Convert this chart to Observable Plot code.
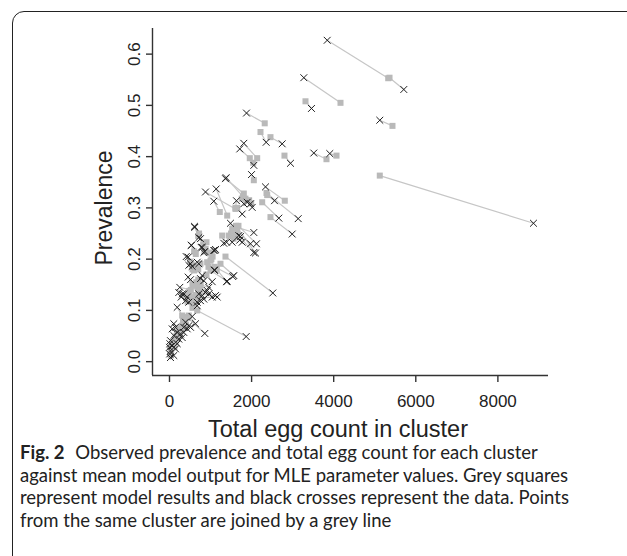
<!DOCTYPE html>
<html>
<head>
<meta charset="utf-8">
<script src="https://cdn.jsdelivr.net/npm/d3@7"></script>
<script src="https://cdn.jsdelivr.net/npm/@observablehq/plot@0.6"></script>
<style>
  html, body { margin:0; padding:0; background:#fff; }
  body { width:627px; height:556px; overflow:hidden; position:relative; }
  #frame { position:absolute; left:12px; top:11px; width:680px; height:640px;
           border:1.6px solid #222; border-radius:12px; box-sizing:border-box; }
  #chart { position:absolute; left:0; top:0; }
  #caption { position:absolute; left:20px; top:441px; width:600px;
             font-family: Lato, "Open Sans", sans-serif; font-size:18.5px; line-height:22.7px; color:#222; }
  #caption b { font-weight:700; margin-right:6px; }
</style>
</head>
<body>
<div id="frame"></div>
<div id="chart"></div>
<div id="caption"><b>Fig. 2</b> Observed prevalence and total egg count for each cluster<br>against mean model output for MLE parameter values. Grey squares<br>represent model results and black crosses represent the data. Points<br>from the same cluster are joined by a grey line</div>
<script>
// Observed data (black crosses)
const dataEgg = [3842,5708,3272,3459,5123,8867,3515,3905,2948,1876,2745,2355,1810,1712,2054,1998,1364,1380,2339,3135,2663,2989,2558,
  877,1138,1079,1632,1893,1973,2015,1810,1771,1486,2054,1730,1323,1389,1527,1771,1973,2054,2095,
  609,755,529,772,836,1079,1121,407,470,553,510,675,1096,2517,1567,1389,1040,
  227,309,431,470,390,714,797,877,957,1121,1040,836,755,675,188,675,1868,860,633,
  797,755,836,455,512,918,1162,957,251,348,285,1542,1406,616,714,536,797,455,714,1096,860,1104,1688,2119,1710,
  390,470,512,348,553,105,146,66,188,268,105,24,10,66,0,24,5,105,24,146,188,227,309,348,431];
const dataPrev = [.627,.531,.554,.494,.471,.270,.407,.406,.387,.485,.425,.428,.426,.415,.383,.365,.357,.359,.341,.279,.280,.249,.314,
  .331,.337,.313,.314,.311,.308,.301,.308,.288,.270,.252,.244,.231,.233,.233,.233,.230,.213,.212,
  .264,.240,.227,.223,.213,.217,.219,.205,.188,.186,.191,.194,.178,.134,.168,.156,.156,
  .135,.132,.126,.116,.119,.132,.129,.135,.132,.129,.126,.122,.119,.116,.106,.109,.049,.055,.074,
  .168,.162,.158,.165,.160,.139,.126,.145,.145,.132,.126,.166,.157,.262,.242,.227,.223,.204,.191,.179,.215,.217,.246,.230,.237,
  .077,.070,.067,.067,.088,.074,.067,.064,.057,.054,.051,.041,.035,.031,.028,.021,.015,.012,.008,.025,.035,.044,.047,.057,.064];
// Model output (grey squares)
const modelEgg = [5328,5360,4166,3313,5432,5123,3824,4068,2801,2320,2460,2217,2136,1956,2040,2054,1810,1790,2809,2363,2258,2460,2380,
  1608,1406,1225,1608,1850,1940,1990,1760,1649,1527,1649,1649,1284,1445,1500,1560,1600,1570,1620,
  720,901,600,850,982,999,1050,500,560,600,620,755,918,1364,1242,1150,900,
  400,431,470,520,440,553,600,630,650,700,680,633,620,600,309,560,675,431,470,
  700,650,720,560,590,680,740,760,520,480,450,1100,1000,700,820,640,880,540,700,950,950,1020,1560,1680,1600,
  330,380,400,300,450,220,200,180,170,230,130,90,60,70,40,35,25,40,30,120,150,200,250,280,350];
const modelPrev = [.553,.554,.505,.508,.460,.363,.395,.402,.402,.465,.438,.448,.397,.397,.388,.354,.328,.322,.314,.329,.311,.282,.325,
  .298,.285,.292,.300,.318,.315,.309,.318,.300,.259,.262,.253,.246,.246,.250,.252,.258,.255,.265,
  .250,.233,.215,.215,.213,.197,.205,.195,.180,.178,.185,.191,.194,.205,.191,.180,.170,
  .128,.126,.120,.119,.117,.126,.125,.130,.128,.135,.124,.119,.115,.112,.090,.105,.100,.087,.090,
  .160,.155,.150,.150,.148,.145,.140,.150,.140,.138,.132,.185,.178,.245,.228,.210,.220,.190,.180,.185,.212,.200,.240,.265,.245,
  .080,.075,.072,.070,.085,.065,.060,.055,.050,.055,.045,.038,.032,.030,.026,.022,.016,.018,.012,.028,.038,.045,.050,.060,.065];

const xTicks = [0, 2000, 4000, 6000, 8000];
const yTicks = [0, 0.1, 0.2, 0.3, 0.4, 0.5, 0.6];
const xTitle = "Total egg count in cluster";
const yTitle = "Prevalence";

const clusters = dataEgg.map((d, i) => ({cx: d, cy: dataPrev[i], mx: modelEgg[i], my: modelPrev[i]}));

const xDomain = [-414, 9233], yDomain = [-0.027, 0.650];
const axisColor = "#333";

const chart = Plot.plot({
  width: 627, height: 440,
  marginLeft: 152, marginRight: 79, marginTop: 28, marginBottom: 65,
  x: {domain: xDomain},
  y: {domain: yDomain},
  style: {fontFamily: "'Liberation Sans', Arial, sans-serif", fontSize: "17px", color: "#222", background: "transparent", overflow: "visible"},
  marks: [
    Plot.link(clusters, {x1: "cx", y1: "cy", x2: "mx", y2: "my", stroke: "#c6c6c6", strokeWidth: 1.2}),
    Plot.dot(clusters, {x: "mx", y: "my", symbol: "square", fill: "#b9b9b9", r: 3.4}),
    Plot.dot(clusters, {x: "cx", y: "cy", symbol: "times", stroke: "#1e1e1e", strokeWidth: 1, r: 3.2}),
    Plot.ruleY([yDomain[0]], {stroke: axisColor, strokeWidth: 1.4}),
    Plot.ruleX([xDomain[0]], {stroke: axisColor, strokeWidth: 1.4}),
    Plot.axisX({ticks: xTicks, tickFormat: d => String(d), tickSize: 7, tickPadding: 12, stroke: axisColor, strokeWidth: 1.4, label: null}),
    Plot.axisY({ticks: yTicks, tickFormat: d => d.toFixed(1), tickSize: 6, tickPadding: 7, tickRotate: -90, stroke: axisColor, strokeWidth: 1.4, label: null})
  ]
});
document.getElementById("chart").appendChild(chart);

// axis titles
const svg = d3.select(chart);
svg.append("text").text(xTitle)
  .attr("x", 338).attr("y", 431).attr("text-anchor", "middle").attr("dominant-baseline", "middle")
  .style("font-family", "'Liberation Sans', Arial, sans-serif").style("font-size", "23.5px").style("fill", "#222");
svg.append("text").text(yTitle)
  .attr("transform", "translate(106,208) rotate(-90)").attr("text-anchor", "middle").attr("dominant-baseline", "middle")
  .style("font-family", "'Liberation Sans', Arial, sans-serif").style("font-size", "23px").style("fill", "#222");
</script>
</body>
</html>
